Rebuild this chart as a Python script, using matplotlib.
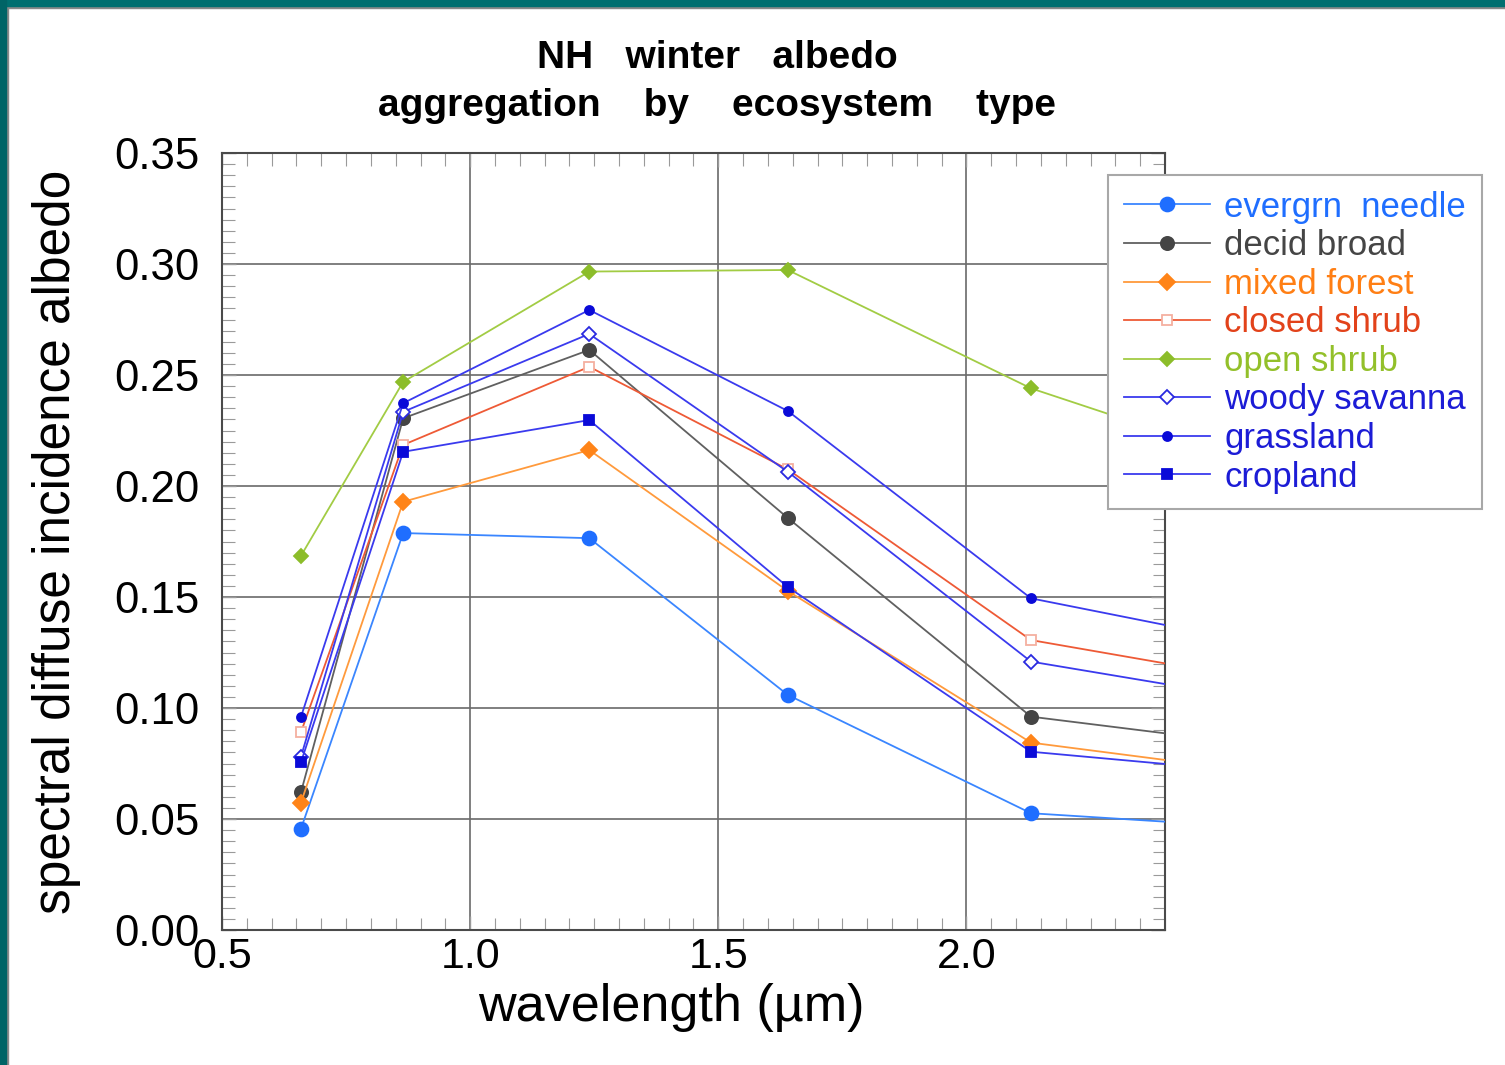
import matplotlib
matplotlib.use("Agg")
import matplotlib.pyplot as plt
from matplotlib.patches import Rectangle
from matplotlib.ticker import MultipleLocator, FixedLocator

plt.rcParams['font.family'] = ['Liberation Sans', 'DejaVu Sans']

# ---- data ----
wavelength = [0.659, 0.865, 1.24, 1.64, 2.13, 2.40]   # last value = right edge of plot (line continues off the marked bands)
evergrn_needle = [0.0455, 0.1788, 0.1765, 0.1059, 0.0526, 0.0488]
decid_broad    = [0.0620, 0.2305, 0.2613, 0.1856, 0.0961, 0.0886]
mixed_forest   = [0.0573, 0.1929, 0.2162, 0.1527, 0.0844, 0.0766]
closed_shrub   = [0.0890, 0.2185, 0.2537, 0.2075, 0.1306, 0.1201]
open_shrub     = [0.1685, 0.2469, 0.2966, 0.2973, 0.2440, 0.2240]
woody_savanna  = [0.0780, 0.2334, 0.2685, 0.2064, 0.1209, 0.1108]
grassland      = [0.0959, 0.2373, 0.2793, 0.2338, 0.1494, 0.1374]
cropland       = [0.0755, 0.2154, 0.2297, 0.1545, 0.0803, 0.0748]

labels = ["evergrn  needle", "decid broad", "mixed forest", "closed shrub",
          "open shrub", "woody savanna", "grassland", "cropland"]
x_ticks = [0.5, 1.0, 1.5, 2.0]
x_ticklabels = ["0.5", "1.0", "1.5", "2.0"]
y_ticks = [0.00, 0.05, 0.10, 0.15, 0.20, 0.25, 0.30, 0.35]
y_ticklabels = ["0.00", "0.05", "0.10", "0.15", "0.20", "0.25", "0.30", "0.35"]

series = [evergrn_needle, decid_broad, mixed_forest, closed_shrub,
          open_shrub, woody_savanna, grassland, cropland]

# styles: line colour, text colour, marker, marker size, face, edge
styles = [
    dict(lc='#3a86ff', tc='#1f6eff', m='o', ms=10, mfc='#1f6eff', mec='#1f6eff'),
    dict(lc='#606060', tc='#454545', m='o', ms=9.5, mfc='#454545', mec='#454545'),
    dict(lc='#ff9a3c', tc='#ff7f14', m='D', ms=8.5, mfc='#ff8418', mec='#ff8418'),
    dict(lc='#ee5a36', tc='#e2421a', m='s', ms=6.5, mfc='white', mec='#f4b0a0'),
    dict(lc='#a2cc44', tc='#93c02a', m='D', ms=7.5, mfc='#8cbd2a', mec='#8cbd2a'),
    dict(lc='#3a3aee', tc='#1c1cd6', m='D', ms=7.5, mfc='white', mec='#2a2ae0'),
    dict(lc='#3a3aee', tc='#1c1cd6', m='o', ms=6.5, mfc='#0a0ad8', mec='#0a0ad8'),
    dict(lc='#3a3aee', tc='#1c1cd6', m='s', ms=7.5, mfc='#0a0ad8', mec='#0a0ad8'),
]

W, H = 1505, 1065
fig = plt.figure(figsize=(W / 100, H / 100), dpi=100, facecolor='white')
ax = fig.add_axes([222 / W, 1 - 930 / H, (1165 - 222) / W, (930 - 153) / H])

ax.set_xlim(0.5, 2.40)
ax.set_ylim(0.0, 0.35)

handles = []
for vals, lab, st in zip(series, labels, styles):
    h, = ax.plot(wavelength, vals, color=st['lc'], lw=1.3, marker=st['m'],
                 ms=st['ms'], mfc=st['mfc'], mec=st['mec'], mew=1.3,
                 markevery=[0, 1, 2, 3, 4], label=lab, zorder=3)
    handles.append(h)

# grid
ax.xaxis.set_major_locator(FixedLocator(x_ticks))
ax.yaxis.set_major_locator(FixedLocator(y_ticks))
ax.set_xticklabels(x_ticklabels)
ax.set_yticklabels(y_ticklabels)
ax.xaxis.set_minor_locator(MultipleLocator(0.05))
ax.yaxis.set_minor_locator(MultipleLocator(0.005))
ax.grid(True, which='major', color='#6a6a6a', lw=1.2, zorder=1)
ax.set_axisbelow(True)

ax.tick_params(which='both', direction='in', top=True, right=True,
               colors='#9a9a9a', labelcolor='black')
ax.tick_params(axis='y', which='major', labelsize=31.5, pad=16)
ax.tick_params(axis='x', which='major', labelsize=31, pad=5)
ax.tick_params(which='major', length=10, width=1.0)
ax.tick_params(which='minor', length=9, width=0.8)
for sp in ax.spines.values():
    sp.set_color('#4a4a4a')
    sp.set_linewidth(1.5)

ax.set_xlabel("wavelength (\u00b5m)", fontsize=37.5)
ax.xaxis.set_label_coords(0.477, -0.068)
ax.set_ylabel("spectral diffuse incidence albedo", fontsize=37)
ax.yaxis.set_label_coords(-0.15, 0.5)

fig.text(717 / W, 1 - 58 / H, "NH   winter   albedo", ha='center', va='center',
         fontsize=28, fontweight='bold')
fig.text(717 / W, 1 - 106 / H, "aggregation    by    ecosystem    type", ha='center',
         va='center', fontsize=28, fontweight='bold')

leg = ax.legend(handles=handles, loc='upper left',
                bbox_to_anchor=(1108 / W, 1 - 175 / H), bbox_transform=fig.transFigure,
                borderaxespad=0, fontsize=25, handlelength=2.5, handletextpad=0.4,
                labelspacing=0.16, borderpad=0.45, fancybox=False, framealpha=1,
                edgecolor='#a8a8a8')
leg.get_frame().set_linewidth(1.5)
leg.set_zorder(5)
for txt, st in zip(leg.get_texts(), styles):
    txt.set_color(st['tc'])

# teal frame at top and left of the picture
fig.patches.append(Rectangle((0, 1 - 6 / H), 1, 6 / H, transform=fig.transFigure,
                             color='#006f70', zorder=10))
fig.patches.append(Rectangle((0, 1 - 8 / H), 1, 2 / H, transform=fig.transFigure,
                             color='#8a8a8a', zorder=9))
fig.patches.append(Rectangle((0, 0), 6 / W, 1, transform=fig.transFigure,
                             color='#006466', zorder=10))
fig.patches.append(Rectangle((6 / W, 0), 2 / W, 1 - 6 / H, transform=fig.transFigure,
                             color='#8a8a8a', zorder=9))

fig.savefig("out.png", dpi=100, facecolor='white')
